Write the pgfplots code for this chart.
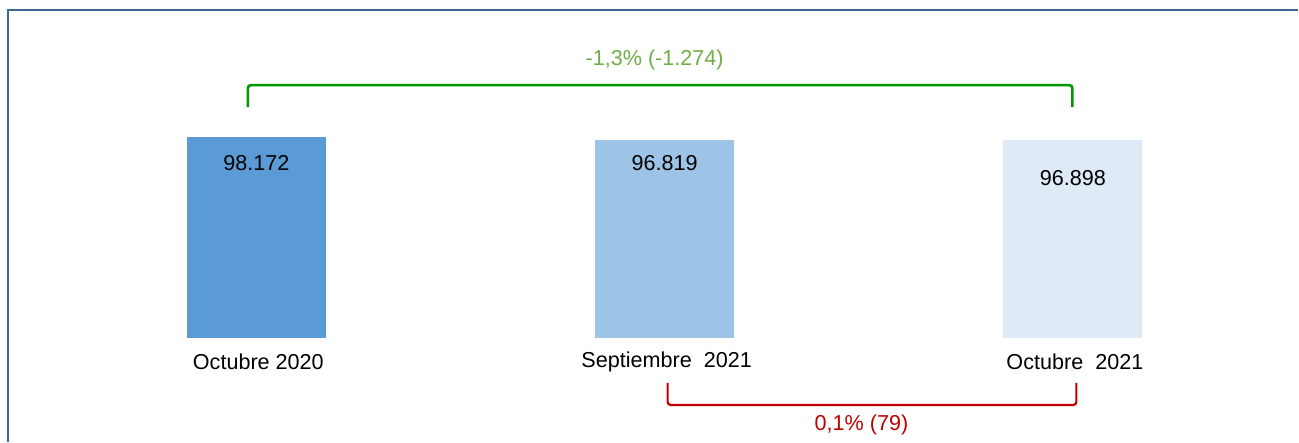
\documentclass[border=0pt]{standalone}
\usepackage{fontspec}
\setmainfont{Liberation Sans}
\usepackage{pgfplots}
\pgfplotsset{compat=1.18}
\definecolor{barA}{HTML}{5B9BD5}
\definecolor{barB}{HTML}{9DC3E6}
\definecolor{barC}{HTML}{DEEAF6}
\definecolor{frameC}{HTML}{3C6894}
\definecolor{brG}{HTML}{009A00}
\definecolor{txtG}{HTML}{70AD47}
\definecolor{redC}{HTML}{C00000}
\begin{document}
\begin{tikzpicture}
\begin{axis}[
  width=649.5pt, height=221pt, scale only axis,
  xmin=-0.62791, xmax=2.55202,
  ymin=-50796, ymax=165086,
  ybar, bar width=0.34027, bar shift=0pt,
  axis line style={draw=none},
  major tick length=0pt,
  ytick=\empty,
  xtick={0,1,2},
  xticklabels={Octubre 2020,{Septiembre\ \ 2021},{Octubre\ \ 2021}},
  xticklabel style={anchor=center, yshift=40pt, xshift=1pt, font=\fontsize{10.8}{12}\selectfont},
  clip=false,
]
\addplot[fill=barA, draw=none] coordinates {(0,98172)};
\addplot[fill=barB, draw=none] coordinates {(1,96819)};
\addplot[fill=barC, draw=none] coordinates {(2,96898)};
% frame
\draw[frameC, line width=0.75pt] (axis cs:-0.60832,-50796) -- (axis cs:-0.60832,160202) -- (axis cs:2.55202,160202);
% value labels
\node[font=\fontsize{10.8}{12}\selectfont] at (axis cs:0,85474) {98.172};
\node[font=\fontsize{10.8}{12}\selectfont] at (axis cs:1,85474) {96.819};
\node[font=\fontsize{10.8}{12}\selectfont] at (axis cs:2,78147) {96.898};
% green bracket
\draw[brG, line width=1.3pt, rounded corners=1.5pt] (axis cs:-0.02081,112825) -- (axis cs:-0.02081,123570) -- (axis cs:1.99878,123570) -- (axis cs:1.99878,112825);
\node[txtG, font=\fontsize{10.8}{12}\selectfont] at (axis cs:0.97552,135800) {-1,3\% (-1.274)};
% red bracket
\draw[redC, line width=1.1pt, rounded corners=1.5pt] (axis cs:1.00734,-21979) -- (axis cs:1.00734,-32724) -- (axis cs:2.00857,-32724) -- (axis cs:2.00857,-21979);
\node[redC, font=\fontsize{10.8}{12}\selectfont] at (axis cs:1.48225,-42493) {0,1\% (79)};
\end{axis}
\end{tikzpicture}
\end{document}
